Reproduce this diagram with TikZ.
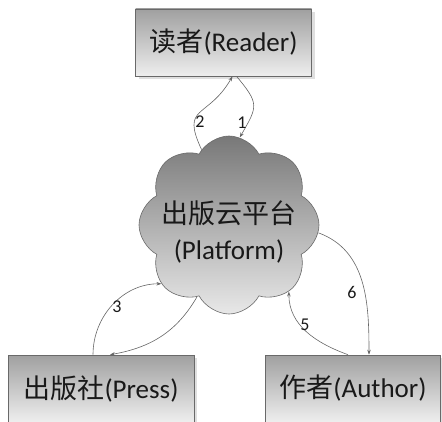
\documentclass[tikz,border=0pt]{standalone}
\usepackage{fontspec}
\setmainfont{Carlito}
\newfontfamily\cjk{Noto Sans CJK SC}
\usetikzlibrary{shapes.symbols,shadows,arrows.meta}
\definecolor{boxtop}{RGB}{160,160,160}
\definecolor{boxbottom}{RGB}{238,238,238}
\definecolor{cloudtop}{RGB}{120,120,120}
\definecolor{cloudbottom}{RGB}{232,232,232}
\definecolor{edgegray}{RGB}{105,105,105}
\definecolor{textgray}{RGB}{25,25,25}

\tikzset{
    rolebox/.style={draw=edgegray, line width=0.6pt, top color=boxtop, bottom color=boxbottom,
        minimum height=67pt, inner sep=0pt, text=textgray, font=\fontsize{27}{30}\selectfont,
        drop shadow={shadow xshift=3pt, shadow yshift=-3pt, opacity=0.25}},
    platform/.style={cloud, cloud puffs=8, cloud puff arc=125, cloud ignores aspect,
        draw=edgegray, line width=0.6pt, top color=cloudtop, bottom color=cloudbottom,
        minimum width=180pt, minimum height=178pt, inner sep=0pt},
    flow/.style={draw=black!60, line width=0.6pt, -{Stealth[length=5pt,width=3.5pt]}},
    steplabel/.style={text=textgray, font=\fontsize{18}{20}\selectfont}
}

\begin{document}
\begin{tikzpicture}[x=1pt,y=1pt]
    \useasboundingbox (0,0) rectangle (442,421);
    \clip (0,0) rectangle (442,421);

    % Roles
    \node[rolebox, minimum width=176pt] (reader) at (223.5,378.5) {{\cjk 读者}(Reader)};
    \node[rolebox, minimum width=186pt] (press) at (101,32.5) {{\cjk 出版社}(Press)};
    \node[rolebox, minimum width=175pt] (author) at (353,32.5) {{\cjk 作者}(Author)};

    % Cloud platform
    \node[platform] (cloud) at (229,196) {};
    \node[align=center, text=textgray, font=\fontsize{27}{36}\selectfont] (cloudtext)
        at ([yshift=-7pt]cloud.center) {{\cjk 出版云平台}\\(Platform)};

    % Reader <-> platform
    \draw[flow] (cloud.110) to[out=115, in=-120, looseness=1.6] ([xshift=9pt]reader.south);
    \draw[flow] ([xshift=13pt]reader.south) to[out=-50, in=60, looseness=1.5] (cloud.83);

    % Press <-> platform
    \draw[flow] ([xshift=-8pt]press.north) to[out=90, in=180] (cloud.221);
    \draw[flow] (cloud.246) to[out=-120, in=10] ([xshift=9pt]press.north);

    % Author <-> platform
    \draw[flow] ([xshift=-5pt]author.north) to[out=160, in=-90] (cloud.312);
    \draw[flow] (cloud.355) to[out=-20, in=90] ([xshift=16pt]author.north);

    % Step numbers
    \node[steplabel] (n1) at (242,298) {1};
    \node[steplabel] (n2) at (200,299) {2};
    \node[steplabel] (n3) at (117,114) {3};
    \node[steplabel] (n5) at (305,96) {5};
    \node[steplabel] (n6) at (352,129) {6};
\end{tikzpicture}
\end{document}
